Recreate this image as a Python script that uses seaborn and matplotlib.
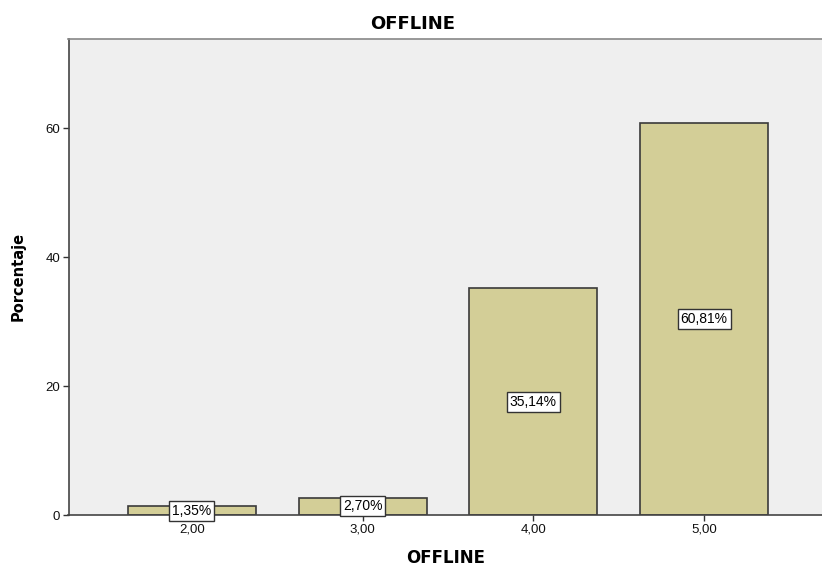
import matplotlib
matplotlib.use("Agg")
import matplotlib.pyplot as plt
import seaborn as sns
import pandas as pd

categories = ["2,00", "3,00", "4,00", "5,00"]
percentages = [1.35, 2.70, 35.14, 60.81]
labels = ["1,35%", "2,70%", "35,14%", "60,81%"]
yticks = [0, 20, 40, 60]

sns.set_theme(style="white")
plt.rcParams['font.family'] = ['Liberation Sans', 'DejaVu Sans']

df = pd.DataFrame({"OFFLINE": categories, "Porcentaje": percentages})

fig = plt.figure(figsize=(8.22, 5.66), dpi=100)
ax = fig.add_axes([68.5/822, 51/566, 1 - 68.5/822 + 0.001, (515 - 38.5)/566])
ax.set_facecolor("#EFEFEF")

sns.barplot(data=df, x="OFFLINE", y="Porcentaje", color="#D3CE97", width=0.75,
            edgecolor="#3a3a3a", linewidth=1.2, saturation=1, ax=ax)

for i, (v, lab) in enumerate(zip(percentages, labels)):
    ax.text(i, v / 2, lab, ha="center", va="center", fontsize=10, color="black",
            bbox=dict(boxstyle="square,pad=0.22", facecolor="white", edgecolor="#333333", linewidth=1))

ax.set_xlim(-0.722, 3.695)
ax.set_ylim(0, 73.9)
ax.set_yticks(yticks)
ax.set_yticklabels([str(t) for t in yticks])
ax.tick_params(axis="both", which="both", direction="out", length=4, width=1,
               color="#333333", labelsize=9.5, labelcolor="#111111", bottom=True, left=True, pad=2)

for side in ["left", "bottom"]:
    ax.spines[side].set_color("#444444")
    ax.spines[side].set_linewidth(1.2)
ax.spines["top"].set_color("#888888")
ax.spines["top"].set_linewidth(1.2)
ax.spines["right"].set_visible(False)

bold = dict(family=["DejaVu Sans"], fontweight="bold", color="black")
ax.set_title("OFFLINE", fontsize=13, x=(412 - 68.5) / 753.5, pad=7, **bold)
ax.set_xlabel("OFFLINE", fontsize=12, labelpad=10, **bold)
ax.set_ylabel("Porcentaje", fontsize=10.5, labelpad=14, **bold)

fig.savefig("out.png", dpi=100)
